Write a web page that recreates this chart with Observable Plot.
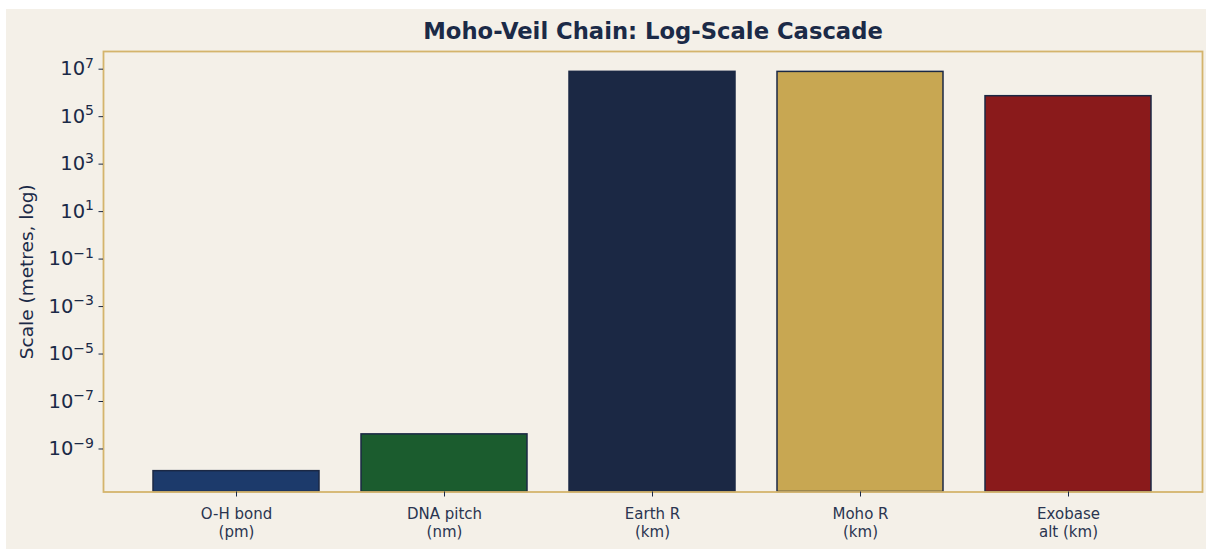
<!DOCTYPE html>
<html>
<head>
<meta charset="utf-8">
<script src="https://cdn.jsdelivr.net/npm/d3@7"></script>
<script src="https://cdn.jsdelivr.net/npm/@observablehq/plot@0.6"></script>
<style>
  html, body { margin: 0; padding: 0; background: #ffffff; }
  #wrap { position: absolute; left: 6px; top: 9px; width: 1200px; height: 540px; background: #f4f0e8; }
  svg { font-family: "DejaVu Sans", sans-serif; }
</style>
</head>
<body>
<div id="wrap"></div>
<script>
const categories = ["O-H bond\n(pm)", "DNA pitch\n(nm)", "Earth R\n(km)", "Moho R\n(km)", "Exobase\nalt (km)"];
const values = [9.6e-11, 3.4e-9, 6.371e6, 6.336e6, 6.0e5];
const barColors = ["#1c3a6b", "#1b5c2e", "#1b2844", "#c8a752", "#8a1a1b"];
const yTicks = [1e-9, 1e-7, 1e-5, 1e-3, 1e-1, 1e1, 1e3, 1e5, 1e7];
const yDomain = [1.27e-11, 4.58e7];
const titleText = "Moho-Veil Chain: Log-Scale Cascade";
const yLabel = "Scale (metres, log)";

const data = categories.map((c, i) => ({label: c, value: values[i], color: barColors[i]}));

// tick label "10^e" as plain text first; superscript applied afterwards with tspans
const fmt = v => "10^" + String(Math.round(Math.log10(v))).replace("-", "\u2212");

const navy = "#1b2a47";

const chart = Plot.plot({
  width: 1200,
  height: 540,
  marginLeft: 97,
  marginTop: 42,
  marginRight: 4,
  marginBottom: 57.5,
  style: {background: "transparent", fontFamily: "DejaVu Sans, sans-serif"},
  x: {domain: categories, paddingInner: 0.2, paddingOuter: 0.236, align: 0.5, label: null},
  y: {type: "log", domain: yDomain, label: null},
  marks: [
    Plot.barY(data, {x: "label", y1: yDomain[0], y2: "value", fill: "color", stroke: "#1b2844", strokeWidth: 1.5}),
    Plot.frame({stroke: "#d4b46c", strokeWidth: 1.8}),
    Plot.axisY({ticks: yTicks, tickFormat: fmt, tickSize: 4.5, tickPadding: 5, fontSize: 19.5, stroke: "#1b2844", fill: navy, dy: 2, label: null}),
    Plot.axisX({tickSize: 5, tickPadding: 9, fontSize: 15, lineHeight: 1.2, stroke: "#1b2844", fill: "#2a3550", label: null}),
    Plot.text([yLabel], {frameAnchor: "left", dx: -76, rotate: -90, fontSize: 18.5, fill: navy, textAnchor: "middle"}),
    Plot.text([titleText], {frameAnchor: "top", lineAnchor: "middle", dy: -19.5, fontSize: 22.7, fontWeight: "bold", fill: navy, textAnchor: "middle"})
  ]
});

// turn "10^e" into 10 with a raised, smaller exponent
const NS = "http://www.w3.org/2000/svg";
chart.querySelectorAll("text").forEach(t => {
  const s = t.textContent;
  const m = /^10\^(.+)$/.exec(s);
  if (!m) return;
  while (t.firstChild) t.removeChild(t.firstChild);
  const base = document.createElementNS(NS, "tspan");
  base.textContent = "10";
  const ex = document.createElementNS(NS, "tspan");
  ex.textContent = m[1];
  ex.setAttribute("font-size", "14px");
  ex.setAttribute("dy", "-7.5");
  t.appendChild(base);
  t.appendChild(ex);
});

document.getElementById("wrap").appendChild(chart);
</script>
</body>
</html>
